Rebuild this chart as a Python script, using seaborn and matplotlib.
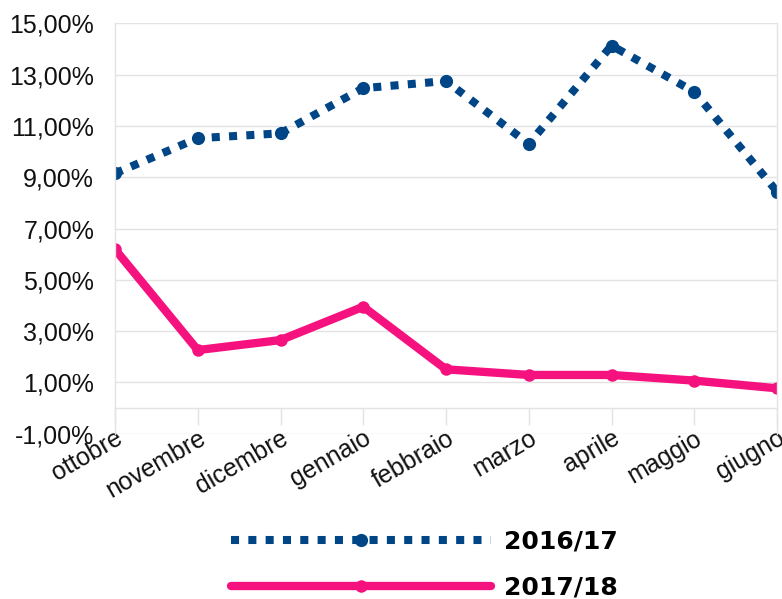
import matplotlib
matplotlib.use("Agg")
import matplotlib.pyplot as plt
import seaborn as sns
import pandas as pd
from matplotlib.ticker import FuncFormatter, FixedLocator

months = ["ottobre", "novembre", "dicembre", "gennaio", "febbraio",
          "marzo", "aprile", "maggio", "giugno"]
series_names = ["2016/17", "2017/18"]
values_1617 = [9.15, 10.52, 10.71, 12.47, 12.75, 10.30, 14.13, 12.33, 8.44]
values_1718 = [6.19, 2.26, 2.65, 3.95, 1.51, 1.29, 1.29, 1.07, 0.77]
y_ticks = [-1, 1, 3, 5, 7, 9, 11, 13, 15]

BLUE = "#004586"
PINK = "#f5127f"
GRID = "#e3e3e3"

sns.set_theme(style="white")
plt.rcParams['font.family'] = ['Liberation Sans', 'DejaVu Sans']

fig = plt.figure(figsize=(7.82, 5.99), dpi=100)
ax = fig.add_axes([115 / 782, 1 - 433.7 / 599, (777 - 115) / 782, (433.7 - 23.3) / 599])

df = pd.DataFrame({"mese": months, "v1": values_1617, "v2": values_1718})
df["pos"] = range(len(months))

sns.lineplot(data=df, x="pos", y="v1", ax=ax, color=BLUE, linewidth=5.8,
             marker="o", markersize=9.5, markeredgewidth=0, label=series_names[0])
sns.lineplot(data=df, x="pos", y="v2", ax=ax, color=PINK, linewidth=6.0,
             marker="o", markersize=9, markeredgewidth=0, label=series_names[1])
blue_line = ax.lines[0]
blue_line.set_dashes([1.0, 1.15])
blue_line.set_dash_capstyle("butt")
for ln in ax.lines:
    ln.set_solid_capstyle("round")
    ln.set_solid_joinstyle("round")

ax.set_xlim(0, len(months) - 1)
ax.set_ylim(-1, 15)
ax.yaxis.set_major_locator(FixedLocator(y_ticks))
ax.yaxis.set_major_formatter(FuncFormatter(lambda v, p: f"{v:.2f}%".replace(".", ",")))
ax.set_xticks(range(len(months)))
ax.set_xticklabels(months)
ax.grid(axis="y", color=GRID, linewidth=1)
ax.set_axisbelow(True)
ax.set_xlabel("")
ax.set_ylabel("")

ax.spines["top"].set_visible(False)
for s in ["left", "right", "bottom"]:
    ax.spines[s].set_color(GRID)
    ax.spines[s].set_linewidth(1)
ax.spines["bottom"].set_position(("data", 0))

ax.tick_params(axis="y", length=0, pad=15, labelsize=18, labelcolor="#111111")
ax.tick_params(axis="x", length=12, width=1, color=GRID, direction="out",
               pad=1, labelsize=18, labelcolor="#111111", bottom=True,
               labelrotation=30)
for lab in ax.get_xticklabels():
    lab.set_ha("right")
    lab.set_rotation_mode("anchor")

handles, labels = ax.get_legend_handles_labels()
ax.get_legend().remove()
leg = fig.legend(handles, labels, loc="center left",
                 bbox_to_anchor=(208 / 782, 1 - 564.5 / 599),
                 frameon=False, handlelength=10.4,
                 handletextpad=0.55, labelspacing=0.9,
                 prop={"family": "DejaVu Sans", "weight": "bold", "size": 18})
for t in leg.get_texts():
    t.set_color("black")

fig.savefig("out.png", dpi=100)
